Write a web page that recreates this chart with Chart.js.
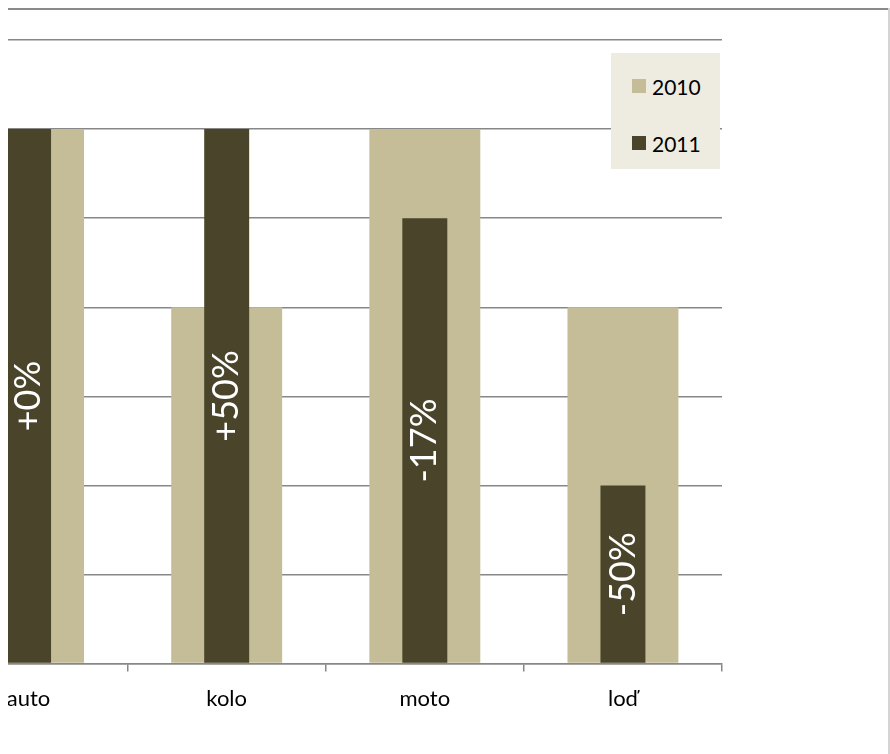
<!DOCTYPE html>
<html>
<head>
<meta charset="utf-8">
<script src="https://cdn.jsdelivr.net/npm/chart.js@4.4.0/dist/chart.umd.min.js"></script>
<style>
  body { margin: 0; background: #fff; font-family: Lato, sans-serif; }
  #frame { position: absolute; left: 8px; top: 8px; width: 881px; height: 746px; overflow: hidden; }
  #box { position: absolute; left: -100px; top: -8px; width: 830px; height: 754px; }
  #topline { position: absolute; left: 8px; top: 8px; width: 881px; height: 2px; background: #8a8a8a; }
  #rightline { position: absolute; left: 888px; top: 8px; width: 2px; height: 746px; background: #d4d4d4; }
  #legend { position: absolute; left: 611px; top: 53px; width: 109px; height: 116px; background: #eeece1; }
  .item { position: absolute; left: 21px; height: 20px; display: flex; align-items: center; font-size: 21px; color: #000; }
  .sw { width: 14px; height: 14px; margin-right: 6px; }
</style>
</head>
<body>
<div id="frame"><div id="box"><canvas id="graf"></canvas></div></div>
<div id="topline"></div>
<div id="rightline"></div>
<div id="legend"></div>
<script>
const categories = ['auto', 'kolo', 'moto', 'loď'];
const values2010 = [6, 4, 6, 4];
const values2011 = [6, 6, 5, 2];
const changeLabels = ['+0%', '+50%', '-17%', '-50%'];
const seriesNames = ['2010', '2011'];
const colors = ['#c4bd97', '#4a452a'];

// legend in the corner of the plot
const legend = document.getElementById('legend');
seriesNames.forEach((name, i) => {
    const it = document.createElement('div');
    it.className = 'item';
    it.style.top = (23 + i * 57) + 'px';
    it.innerHTML = '<span class="sw" style="background:' + colors[i] + '"></span>' + name;
    legend.appendChild(it);
});

// white rotated labels inside the 2011 bars
const barText = {
    id: 'barText',
    afterDatasetsDraw(chart) {
        const meta = chart.getDatasetMeta(1);
        const ctx = chart.ctx;
        ctx.save();
        ctx.fillStyle = '#fff';
        ctx.font = '36px Lato';
        ctx.textAlign = 'center';
        ctx.textBaseline = 'middle';
        meta.data.forEach((bar, i) => {
            ctx.save();
            ctx.translate(bar.x, (bar.y + bar.base) / 2);
            ctx.rotate(-Math.PI / 2);
            ctx.fillText(changeLabels[i], 0, 0);
            ctx.restore();
        });
        ctx.restore();
    }
};

const gray = '#878787';
new Chart(document.getElementById('graf'), {
    type: 'bar',
    data: {
        labels: categories,
        datasets: [{
            label: seriesNames[0],
            data: values2010,
            backgroundColor: colors[0],
            grouped: false,
            order: 2,
            categoryPercentage: 1,
            barPercentage: 0.56
        }, {
            label: seriesNames[1],
            data: values2011,
            backgroundColor: colors[1],
            grouped: false,
            order: 1,
            categoryPercentage: 1,
            barPercentage: 0.227
        }]
    },
    options: {
        responsive: true,
        maintainAspectRatio: false,
        animation: false,
        layout: { padding: { left: 21.5, right: 16, top: 40, bottom: 28 } },
        plugins: { legend: { display: false }, tooltip: { enabled: false } },
        scales: {
            x: {
                grid: { drawOnChartArea: false, color: gray, lineWidth: 1.5, tickLength: 8 },
                border: { color: gray, width: 1.5 },
                ticks: { color: '#000', font: { family: 'Lato', size: 22 }, padding: 14 }
            },
            y: {
                min: 0,
                max: 7,
                ticks: { display: false, stepSize: 1 },
                grid: { color: gray, lineWidth: 1.5, drawTicks: false },
                border: { display: false }
            }
        }
    },
    plugins: [barText]
});
</script>
</body>
</html>
